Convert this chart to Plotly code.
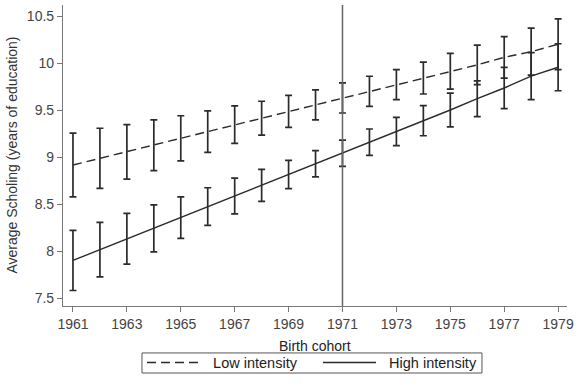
import plotly.graph_objects as go

years = list(range(1961, 1980))
low_intensity = [8.915, 8.986, 9.055, 9.126, 9.199, 9.27, 9.344, 9.413, 9.486, 9.555,
                 9.628, 9.699, 9.77, 9.84, 9.912, 9.98, 10.06, 10.12, 10.2]
low_ci = [0.34, 0.32, 0.29, 0.27, 0.24, 0.22, 0.20, 0.18, 0.17, 0.16,
          0.16, 0.16, 0.16, 0.17, 0.19, 0.21, 0.22, 0.25, 0.27]
high_intensity = [7.90, 8.014, 8.13, 8.24, 8.355, 8.473, 8.585, 8.699, 8.814, 8.928,
                  9.04, 9.158, 9.271, 9.386, 9.50, 9.62, 9.734, 9.86, 9.955]
high_ci = [0.32, 0.29, 0.27, 0.25, 0.22, 0.20, 0.19, 0.17, 0.15, 0.14,
           0.14, 0.14, 0.15, 0.16, 0.18, 0.19, 0.22, 0.25, 0.25]
x_ticks = [1961, 1963, 1965, 1967, 1969, 1971, 1973, 1975, 1977, 1979]
y_ticks = [7.5, 8, 8.5, 9, 9.5, 10, 10.5]
y_tick_labels = ["7.5", "8", "8.5", "9", "9.5", "10", "10.5"]
cutoff_year = 1971

font = "Liberation Sans, Arial, sans-serif"
ink = "#2b2b2b"
pad = "\u00a0\u00a0"

fig = go.Figure()
fig.add_trace(go.Scatter(
    x=years, y=low_intensity, mode="lines", name=pad + "Low intensity",
    line=dict(color=ink, width=1.4, dash="9px,5px"),
    error_y=dict(type="data", array=low_ci, visible=True, color=ink, thickness=1.7, width=3.5),
))
fig.add_trace(go.Scatter(
    x=years, y=high_intensity, mode="lines", name=pad + "High intensity",
    line=dict(color=ink, width=1.4),
    error_y=dict(type="data", array=high_ci, visible=True, color=ink, thickness=1.7, width=3.5),
))

fig.add_shape(type="line", xref="x", yref="paper", x0=cutoff_year, x1=cutoff_year, y0=0, y1=1,
              line=dict(color="#666666", width=1.5))
# legend frame
fig.add_shape(type="rect", xref="paper", yref="paper", x0=0.1567, x1=0.8313,
              y0=-0.2226, y1=-0.156, line=dict(color="#555555", width=1))

fig.update_layout(
    width=580, height=385,
    margin=dict(l=63, r=13, t=5, b=79, autoexpand=False),
    paper_bgcolor="white", plot_bgcolor="white",
    font=dict(family=font, size=13, color="#333333"),
    showlegend=True,
    legend=dict(orientation="h", x=0.1568, xanchor="left", y=-0.135, yanchor="top",
                borderwidth=0, bgcolor="rgba(0,0,0,0)", font=dict(size=14.5, color="#222222"),
                itemwidth=53, tracegroupgap=0, entrywidth=108),
    xaxis=dict(range=[1960.63, 1979.33], tickvals=x_ticks, ticks="outside", ticklen=5,
               tickcolor="#777777", showline=True, linecolor="#777777", linewidth=1.2,
               showgrid=False, zeroline=False, tickfont=dict(size=14, color="#444444")),
    yaxis=dict(range=[7.415, 10.617], tickvals=y_ticks, ticktext=y_tick_labels,
               ticks="outside", ticklen=5, tickcolor="#777777", showline=True,
               linecolor="#777777", linewidth=1.2, showgrid=False, zeroline=False,
               tickfont=dict(size=14, color="#444444")),
    annotations=[
        dict(text="Birth cohort", xref="paper", yref="paper", x=0.5, y=-0.133,
             xanchor="center", yanchor="middle", showarrow=False,
             font=dict(size=14, color="#222222")),
        dict(text="Average Scholing (years of education)", xref="paper", yref="paper",
             x=-0.103, y=0.5, xanchor="center", yanchor="middle", textangle=-90,
             showarrow=False, font=dict(size=14, color="#333333")),
    ],
)

fig.write_html("out.html", config={"displayModeBar": False},
               post_script="document.body.style.margin='0px';")
